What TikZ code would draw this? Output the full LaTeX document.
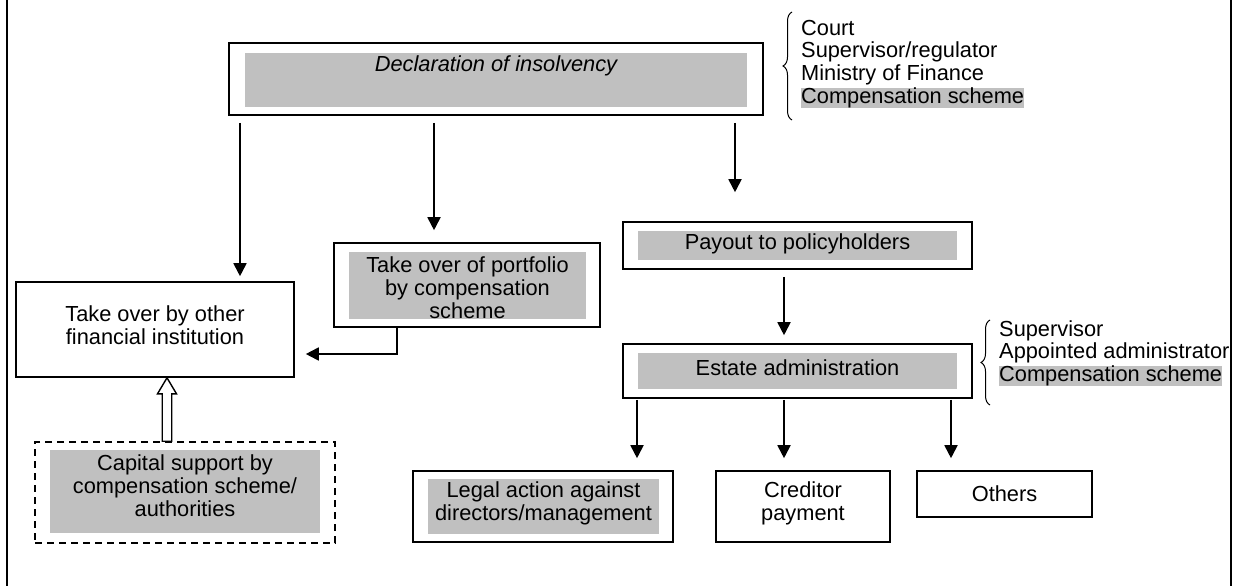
\documentclass[tikz,border=0pt]{standalone}
\usepackage{fontspec}
\setmainfont{Liberation Sans}
\usetikzlibrary{arrows.meta,calc,decorations.pathreplacing}
\definecolor{hl}{RGB}{192,192,192}
\begin{document}
\begin{tikzpicture}[x=1pt,y=-1pt,
  font=\fontsize{21.8}{22.8}\selectfont,
  frame/.style={draw=black,line width=1.6pt,rectangle,inner sep=0pt},
  dframe/.style={frame,dash pattern=on 7pt off 5pt},
  shadebox/.style={fill=hl,rectangle,inner sep=0pt},
  txt/.style={align=center,inner sep=0pt},
  arr/.style={line width=1.8pt,-{Triangle[width=13pt,length=13pt]}},
  hollow/.style={line width=1.4pt,fill=white,line join=miter},
  bracestyle/.style={line width=1pt,decorate,decoration={brace,amplitude=9pt}},
  lbl/.style={anchor=base west,inner sep=0pt},
  hlbl/.style={lbl,fill=hl,text height=15.5pt,text depth=4.5pt}
]
\useasboundingbox (0,0) rectangle (1236,586);
% side frame lines
\draw[line width=2.5pt] (7,0) -- (7,586);
\draw[line width=2.5pt] (1231,0) -- (1231,586);

% top box
\node[frame,minimum width=534pt,minimum height=72pt] (top) at (496,79) {};
\node[shadebox,minimum width=502pt,minimum height=54pt] (topg) at (496,80) {};
\node[txt,font=\fontsize{21.8}{22.8}\selectfont\itshape] (toptx) at (496,66) {Declaration of insolvency};

% take over by other
\node[frame,minimum width=278pt,minimum height=95pt] (tob) at (155,329.5) {};
\node[txt] (tobtx) at (155,325) {Take over by other\\financial institution};

% portfolio
\node[frame,minimum width=266pt,minimum height=84pt] (pf) at (467,285) {};
\node[shadebox,minimum width=237pt,minimum height=67pt] (pfg) at (467.5,285.5) {};
\node[txt] (pftx) at (467.5,287.5) {Take over of portfolio\\by compensation\\scheme};

% payout
\node[frame,minimum width=349pt,minimum height=47pt] (pay) at (797.5,245.5) {};
\node[shadebox,minimum width=319pt,minimum height=29pt] (payg) at (797.5,245.5) {};
\node[txt] (paytx) at (797.5,244) {Payout to policyholders};

% estate
\node[frame,minimum width=349pt,minimum height=54pt] (est) at (797.5,371) {};
\node[shadebox,minimum width=319pt,minimum height=36pt] (estg) at (797.5,371) {};
\node[txt] (esttx) at (797.5,368) {Estate administration};

% capital support
\node[dframe,minimum width=300pt,minimum height=101pt] (cap) at (185,492.5) {};
\node[shadebox,minimum width=270pt,minimum height=83pt] (capg) at (185,491.5) {};
\node[txt] (captx) at (185,485.5) {Capital support by\\compensation scheme/\\authorities};

% legal
\node[frame,minimum width=260pt,minimum height=71pt] (leg) at (543,506.5) {};
\node[shadebox,minimum width=231pt,minimum height=55pt] (legg) at (543.5,506.5) {};
\node[txt] (legtx) at (543.5,503.5) {Legal action against\\directors/management};

% creditor
\node[frame,minimum width=174pt,minimum height=71pt] (cred) at (803,506.5) {};
\node[txt] (credtx) at (803,503.5) {Creditor\\payment};

% others
\node[frame,minimum width=175pt,minimum height=46pt] (oth) at (1004.5,494) {};
\node[txt] (othtx) at (1004.5,494) {Others};

% x positions of connectors
\coordinate (x240) at (240,0);
\coordinate (x434) at (434,0);
\coordinate (x735) at (735,0);
\coordinate (x784) at (784,0);
\coordinate (x637) at (637,0);
\coordinate (x951) at (951,0);
\coordinate (x397) at (397,0);
\coordinate (hx) at (167,0);
\coordinate (e1) at (397,354);

% arrows
\draw[arr,shorten <=7pt,shorten >=5pt] (x240 |- top.south) -- (x240 |- tob.north);
\draw[arr,shorten <=7pt,shorten >=12pt] (x434 |- top.south) -- (x434 |- pf.north);
\draw[arr,shorten <=7pt,shorten >=29pt] (x735 |- top.south) -- (x735 |- pay.north);
\draw[arr,shorten <=7pt,shorten >=8pt] (x784 |- pay.south) -- (x784 |- est.north);
\draw[arr,shorten <=1pt,shorten >=12pt] (x637 |- est.south) -- (x637 |- leg.north);
\draw[arr,shorten <=1pt,shorten >=12pt] (x784 |- est.south) -- (x784 |- cred.north);
\draw[arr,shorten <=1pt,shorten >=12pt] (x951 |- est.south) -- (x951 |- oth.north);
\draw[arr,shorten >=11pt] (x397 |- pf.south) -- (e1) -- (e1 -| tob.east);

% hollow arrow
\draw[hollow] ($(hx |- cap.north)+(-4.75,0)$) -- ($(hx |- tob.south)+(-4.75,16)$)
  -- ($(hx |- tob.south)+(-9.5,16)$) -- (hx |- tob.south)
  -- ($(hx |- tob.south)+(9.5,16)$) -- ($(hx |- tob.south)+(4.75,16)$)
  -- ($(hx |- cap.north)+(4.75,0)$) -- cycle;

% upper brace and labels
\draw[bracestyle] (792,120) -- (792,12);
\node[lbl] (u1) at (801,35.5) {Court};
\node[lbl] (u2) at (801,58) {Supervisor/regulator};
\node[lbl] (u3) at (801,80.5) {Ministry of Finance};
\node[hlbl] (u4) at (801,103) {Compensation scheme};

% lower brace and labels
\draw[bracestyle] (990,405) -- (990,320);
\node[lbl] (l1) at (999,336) {Supervisor};
\node[lbl] (l2) at (999,358.5) {Appointed administrator};
\node[hlbl] (l3) at (999,381) {Compensation scheme};
\end{tikzpicture}
\end{document}
